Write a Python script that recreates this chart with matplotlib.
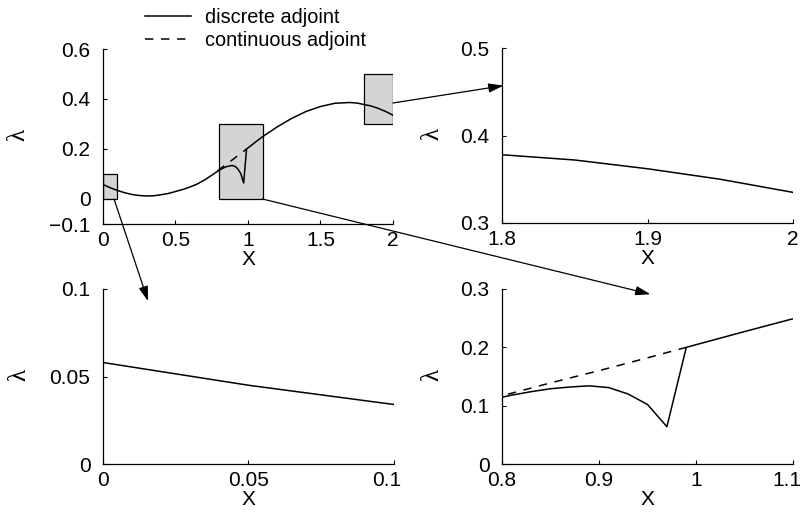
import matplotlib
matplotlib.use("Agg")
import matplotlib.pyplot as plt
from matplotlib.patches import Rectangle, ConnectionPatch
from matplotlib.transforms import ScaledTranslation

plt.rcParams['font.family'] = ['Liberation Sans', 'DejaVu Sans']

# ---- data ----
x_discrete = [0.0, 0.05, 0.1, 0.15, 0.2, 0.25, 0.3, 0.35, 0.4, 0.45, 0.5, 0.55,
              0.6, 0.65, 0.7, 0.75, 0.79, 0.81, 0.83, 0.85, 0.87, 0.89, 0.91,
              0.93, 0.95, 0.97, 0.99, 1.05, 1.1, 1.2, 1.3, 1.4, 1.5, 1.6, 1.7,
              1.75, 1.8, 1.85, 1.9, 1.95, 2.0]
lam_discrete = [0.058, 0.045, 0.034, 0.025, 0.018, 0.014, 0.012, 0.013, 0.017,
                0.022, 0.030, 0.038, 0.048, 0.060, 0.076, 0.095, 0.111, 0.118,
                0.124, 0.129, 0.132, 0.134, 0.131, 0.120, 0.102, 0.064, 0.200,
                0.227, 0.249, 0.288, 0.322, 0.350, 0.370, 0.383, 0.386, 0.384,
                0.378, 0.372, 0.362, 0.350, 0.335]
x_continuous = [0.79, 0.8, 0.85, 0.9, 0.95, 0.99]
lam_continuous = [0.113, 0.117, 0.139, 0.160, 0.182, 0.200]

# zoom windows: (xmin, xmax, ymin, ymax)
zoom_tr = (1.8, 2.0, 0.3, 0.5)
zoom_bl = (0.0, 0.1, 0.0, 0.1)
zoom_br = (0.8, 1.1, 0.0, 0.3)

main_xticks = [0, 0.5, 1, 1.5, 2]
main_xlabels = ['0', '0.5', '1', '1.5', '2']
main_yticks = [-0.1, 0, 0.2, 0.4, 0.6]
main_ylabels = ['\u22120.1', '0', '0.2', '0.4', '0.6']
tr_xticks, tr_xlabels = [1.8, 1.9, 2.0], ['1.8', '1.9', '2']
tr_yticks, tr_ylabels = [0.3, 0.4, 0.5], ['0.3', '0.4', '0.5']
bl_xticks, bl_xlabels = [0, 0.05, 0.1], ['0', '0.05', '0.1']
bl_yticks, bl_ylabels = [0, 0.05, 0.1], ['0', '0.05', '0.1']
br_xticks, br_xlabels = [0.8, 0.9, 1.0, 1.1], ['0.8', '0.9', '1', '1.1']
br_yticks, br_ylabels = [0, 0.1, 0.2, 0.3], ['0', '0.1', '0.2', '0.3']

W, H = 804, 521
fig = plt.figure(figsize=(W / 100, H / 100), dpi=100)

def px_axes(l, t, r, b):
    return fig.add_axes([l / W, (H - b) / H, (r - l) / W, (b - t) / H])

ax_main = px_axes(103, 49, 393, 224)
ax_tr = px_axes(502, 48, 793, 223)
ax_bl = px_axes(103, 289, 394, 464)
ax_br = px_axes(502, 289, 793, 464)

LW = 1.1
DASH = (0, (5.5, 5))

def style(ax, xt, xl, yt, yl, ylab_x, last_shift=0):
    for s in ('top', 'right'):
        ax.spines[s].set_visible(False)
    for s in ('left', 'bottom'):
        ax.spines[s].set_linewidth(0.9)
    ax.set_xticks(xt)
    ax.set_xticklabels(xl)
    ax.set_yticks(yt)
    ax.set_yticklabels(yl)
    ax.tick_params(direction='in', length=3, width=0.8, labelsize=15)
    ax.tick_params(axis='x', pad=5)
    ax.tick_params(axis='y', pad=9)
    ax.set_xlabel('X', fontsize=15)
    ax.xaxis.set_label_coords(0.5, -0.15)
    ax.set_ylabel('\u03bb', fontsize=18, family=['Liberation Serif', 'DejaVu Serif'])
    ax.yaxis.set_label_coords(ylab_x, 0.51)
    if last_shift:
        lab = ax.get_xticklabels()[-1]
        lab.set_transform(lab.get_transform() +
                          ScaledTranslation(last_shift / 100, 0, fig.dpi_scale_trans))

# main plot
for (x0, x1, y0, y1) in (zoom_bl, zoom_br, zoom_tr):
    ax_main.add_patch(Rectangle((x0, y0), x1 - x0, y1 - y0, facecolor='#d4d4d4',
                                edgecolor='k', linewidth=0.9, zorder=1))
l1, = ax_main.plot(x_discrete, lam_discrete, color='k', lw=LW, zorder=3,
                   label='discrete adjoint')
l2, = ax_main.plot(x_continuous, lam_continuous, color='k', lw=LW, ls=DASH,
                   zorder=3, label='continuous adjoint')
ax_main.set_xlim(0, 2)
ax_main.set_ylim(-0.1, 0.6)
style(ax_main, main_xticks, main_xlabels, main_yticks, main_ylabels, -0.255)

for ax, z, xt, xl, yt, yl, lx, sh in (
        (ax_tr, zoom_tr, tr_xticks, tr_xlabels, tr_yticks, tr_ylabels, -0.2, 0),
        (ax_bl, zoom_bl, bl_xticks, bl_xlabels, bl_yticks, bl_ylabels, -0.25, -7),
        (ax_br, zoom_br, br_xticks, br_xlabels, br_yticks, br_ylabels, -0.2, -6)):
    ax.plot(x_discrete, lam_discrete, color='k', lw=LW, zorder=3)
    ax.plot(x_continuous, lam_continuous, color='k', lw=LW, ls=DASH, zorder=3)
    ax.set_xlim(z[0], z[1])
    ax.set_ylim(z[2], z[3])
    style(ax, xt, xl, yt, yl, lx, sh)

# legend
fig.legend([l1, l2], ['discrete adjoint', 'continuous adjoint'],
           loc='upper left', bbox_to_anchor=(145 / W, 1 - 8 / H),
           frameon=False, fontsize=14.3, handlelength=2.3, handletextpad=0.7,
           labelspacing=0.2, borderpad=0, borderaxespad=0)

# connector arrows
arrow_style = '-|>,head_length=0.9,head_width=0.28'
for (xa, ya, axa, xb, yb, axb) in (
        (0.076, 0.0, ax_main, 0.0155, 0.093, ax_bl),
        (1.1, 0.0, ax_main, 0.953, 0.291, ax_br),
        (2.0, 0.384, ax_main, 1.801, 0.457, ax_tr)):
    cp = ConnectionPatch(xyA=(xa, ya), coordsA=axa.transData,
                         xyB=(xb, yb), coordsB=axb.transData,
                         arrowstyle=arrow_style, mutation_scale=10,
                         color='k', lw=0.9, clip_on=False, zorder=5)
    fig.add_artist(cp)

fig.savefig('out.png', dpi=100)
